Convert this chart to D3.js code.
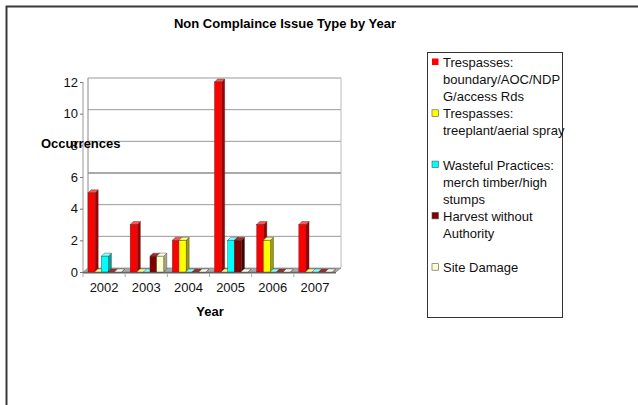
<!DOCTYPE html>
<html>
<head>
<meta charset="utf-8">
<script src="https://cdn.jsdelivr.net/npm/d3@7/dist/d3.min.js"></script>
<style>
  html, body { margin: 0; padding: 0; background: #fff; }
  svg { display: block; font-family: "Liberation Sans", Arial, sans-serif; }
</style>
</head>
<body>
<svg id="chart" width="638" height="405"></svg>
<script>
// Years on the category axis
const years = ["2002", "2003", "2004", "2005", "2006", "2007"];

// Issue types (legend entries, wrapped as displayed)
const seriesNames = [
  ["Trespasses:", "boundary/AOC/NDP", "G/access Rds"],
  ["Trespasses:", "treeplant/aerial spray"],
  ["Wasteful Practices:", "merch timber/high", "stumps"],
  ["Harvest without", "Authority"],
  ["Site Damage"]
];

// Occurrences per year for each issue type
const trespassBoundary = [5, 3, 2, 12, 3, 3];
const trespassTreeplant = [0, 0, 2, 0, 2, 0];
const wastefulPractices = [1, 0, 0, 2, 0, 0];
const harvestNoAuthority = [0, 1, 0, 2, 0, 0];
const siteDamage = [0, 1, 0, 0, 0, 0];

const yTicks = [0, 2, 4, 6, 8, 10, 12];

const seriesValues = [trespassBoundary, trespassTreeplant, wastefulPractices, harvestNoAuthority, siteDamage];
const fronts = ["#ff0000", "#ffff00", "#00ffff", "#800000", "#ffffcc"];
const sides  = ["#a00000", "#a0a000", "#00a0a0", "#450000", "#a8a888"];
const tops   = ["#ff5555", "#ffff88", "#88ffff", "#a03030", "#ffffee"];

const svg = d3.select("#chart");

// Outer frame (top and left edges)
svg.append("path")
  .attr("d", "M6.5,405 V6.5 H638")
  .attr("fill", "none").attr("stroke", "#3a3a3a").attr("stroke-width", 2);

// Title
svg.append("text")
  .attr("x", 285).attr("y", 28)
  .attr("text-anchor", "middle")
  .attr("font-size", 13).attr("font-weight", "bold")
  .text("Non Complaince Issue Type by Year");

// Scales
const y = d3.scaleLinear().domain([0, 12]).range([272, 82]);
const x0 = d3.scaleBand().domain(years).range([83, 336]);
const x1 = d3.scaleBand().domain(d3.range(seriesValues.length)).range([5, 38]);

const wallDx = 5, wallDy = -4;   // depth of the back wall
const barDx = 3, barDy = -3;     // depth of each bar

// Back wall gridlines
const g = svg.append("g");
g.selectAll("line.grid")
  .data(yTicks.filter(t => t > 0))
  .join("line")
  .attr("x1", x0.range()[0] + wallDx).attr("x2", x0.range()[1] + wallDx)
  .attr("y1", d => y(d) + wallDy).attr("y2", d => y(d) + wallDy)
  .attr("stroke", d => d === 6 ? "#555" : "#999").attr("stroke-width", 1);

// Left wall edge
g.append("line")
  .attr("x1", x0.range()[0] + wallDx).attr("x2", x0.range()[0] + wallDx)
  .attr("y1", y(12) + wallDy).attr("y2", y(0) + wallDy)
  .attr("stroke", "#888");
// Right wall edge
g.append("line")
  .attr("x1", x0.range()[1] + wallDx).attr("x2", x0.range()[1] + wallDx)
  .attr("y1", y(12) + wallDy).attr("y2", y(0) + wallDy)
  .attr("stroke", "#bbb");

// Floor
const fx0 = x0.range()[0], fx1 = x0.range()[1], fy = y(0);
g.append("path")
  .attr("d", `M${fx0},${fy} L${fx0 + wallDx},${fy + wallDy} L${fx1 + wallDx},${fy + wallDy} L${fx1},${fy} Z`)
  .attr("fill", "#a8a8a8").attr("stroke", "#777").attr("stroke-width", 0.6);
g.append("rect")
  .attr("x", fx0).attr("y", fy).attr("width", fx1 - fx0).attr("height", 1.5)
  .attr("fill", "#666");

// Front axis line
g.append("line")
  .attr("x1", fx0).attr("x2", fx0)
  .attr("y1", y(12)).attr("y2", fy)
  .attr("stroke", "#999");

// Y axis tick labels
const yAxis = d3.axisLeft(y).tickValues(yTicks).tickSize(3).tickPadding(2);
const ya = svg.append("g").attr("transform", `translate(${fx0},0)`).call(yAxis);
ya.select(".domain").remove();
ya.selectAll(".tick line").attr("stroke", "#777");
ya.selectAll("text").attr("font-size", 13).attr("fill", "#111")
  .attr("font-family", "Liberation Sans, Arial, sans-serif");

// X axis labels
const xAxis = d3.axisBottom(x0).tickSize(4).tickPadding(6);
const xa = svg.append("g").attr("transform", `translate(0,${fy + 1})`).call(xAxis);
xa.select(".domain").remove();
xa.selectAll(".tick line").attr("stroke", "#aaa")
  .attr("transform", `translate(${-x0.bandwidth() / 2},0)`);
xa.selectAll("text").attr("font-size", 13).attr("fill", "#111")
  .attr("font-family", "Liberation Sans, Arial, sans-serif");

// Axis titles
svg.append("text")
  .attr("x", 210).attr("y", 316)
  .attr("text-anchor", "middle")
  .attr("font-size", 13).attr("font-weight", "bold")
  .text("Year");
svg.append("text")
  .attr("x", 41).attr("y", 148)
  .attr("font-size", 13).attr("font-weight", "bold")
  .text("Occurrences");

// 3D bars
const bars = [];
years.forEach((yr, i) => {
  seriesValues.forEach((vals, s) => {
    bars.push({ year: yr, s, v: vals[i] });
  });
});
const bw = x1.bandwidth() + 0.6;
const barG = svg.append("g").selectAll("g.bar")
  .data(bars)
  .join("g")
  .attr("class", "bar");

barG.each(function (d) {
  const gb = d3.select(this);
  const xl = x0(d.year) + x1(d.s);
  const yt = y(d.v), yb = y(0);
  // right side
  gb.append("path")
    .attr("d", `M${xl + bw},${yt} L${xl + bw + barDx},${yt + barDy} L${xl + bw + barDx},${yb + barDy} L${xl + bw},${yb} Z`)
    .attr("fill", sides[d.s]).attr("stroke", "#333").attr("stroke-width", 0.4);
  // top
  gb.append("path")
    .attr("d", `M${xl},${yt} L${xl + barDx},${yt + barDy} L${xl + bw + barDx},${yt + barDy} L${xl + bw},${yt} Z`)
    .attr("fill", tops[d.s]).attr("stroke", "#333").attr("stroke-width", 0.4);
  // front
  if (d.v > 0) {
    gb.append("rect")
      .attr("x", xl).attr("y", yt)
      .attr("width", bw).attr("height", yb - yt)
      .attr("fill", fronts[d.s]).attr("stroke", "#333").attr("stroke-width", 0.4);
  }
});

// Legend
const lg = svg.append("g");
lg.append("rect")
  .attr("x", 427.5).attr("y", 52.5).attr("width", 135).attr("height", 265)
  .attr("fill", "#fff").attr("stroke", "#333").attr("stroke-width", 1);

const lineH = 17.1;
const items = lg.selectAll("g.item")
  .data(seriesNames)
  .join("g")
  .attr("class", "item")
  .attr("transform", (d, i) => `translate(0,${62 + i * 3 * lineH})`);

items.append("rect")
  .attr("x", 432).attr("y", -3.5).attr("width", 6.5).attr("height", 6.5)
  .attr("fill", (d, i) => fronts[i])
  .attr("stroke", (d, i) => i === 0 ? "none" : "#555").attr("stroke-width", 0.6);

items.each(function (lines) {
  const t = d3.select(this).append("text")
    .attr("font-size", 13).attr("fill", "#111");
  lines.forEach((ln, k) => {
    t.append("tspan").attr("x", 443).attr("y", 5 + k * lineH).text(ln);
  });
});
</script>
</body>
</html>
